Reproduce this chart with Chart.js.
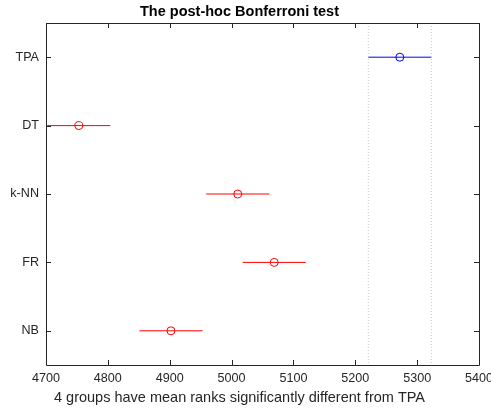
<!DOCTYPE html>
<html>
<head>
<meta charset="utf-8">
<script src="https://cdn.jsdelivr.net/npm/chart.js@4"></script>
<style>
  html, body { margin: 0; padding: 0; background: #fff; }
  #wrap { width: 491px; height: 410px; }
</style>
</head>
<body>
<div id="wrap"><canvas id="bonf"></canvas></div>
<script>
// groups, top to bottom
const groups = ['TPA', 'DT', 'k-NN', 'FR', 'NB'];
const meanRanks = [5272, 4753, 5010, 5069, 4902];
const halfWidth = [51, 51, 51, 51, 51];
const groupColours = ['#0000ff', '#ff0000', '#ff0000', '#ff0000', '#ff0000'];
const xTicks = [4700, 4800, 4900, 5000, 5100, 5200, 5300, 5400];

const axisColour = '#262626';
const ctx = document.getElementById('bonf').getContext('2d');

let datasets = [];

// dotted limits of the reference group (TPA)
const refLo = meanRanks[0] - halfWidth[0];
const refHi = meanRanks[0] + halfWidth[0];
[refLo, refHi].forEach((v) => {
	datasets.push({
		type: 'line',
		data: [{ x: v, y: 0.5 }, { x: v, y: groups.length + 0.5 }],
		borderColor: '#c8c8c8',
		borderWidth: 1,
		borderDash: [1, 2],
		pointRadius: 0
	});
});

// interval bars
groups.forEach((g, i) => {
	datasets.push({
		type: 'line',
		data: [
			{ x: meanRanks[i] - halfWidth[i], y: i + 1 },
			{ x: meanRanks[i] + halfWidth[i], y: i + 1 }
		],
		borderColor: groupColours[i],
		borderWidth: 1,
		pointRadius: 0
	});
});

// mean markers
datasets.push({
	type: 'scatter',
	data: groups.map((g, i) => ({ x: meanRanks[i], y: i + 1 })),
	pointStyle: 'circle',
	pointRadius: 4,
	pointBorderWidth: 1,
	borderColor: groupColours,
	pointBorderColor: groupColours,
	backgroundColor: 'rgba(0,0,0,0)',
	pointBackgroundColor: 'rgba(0,0,0,0)'
});

// box round the axes with inward ticks, like matlab
const boxPlugin = {
	id: 'boxPlugin',
	afterDraw(chart) {
		const c = chart.ctx;
		const a = chart.chartArea;
		const xs = chart.scales.x;
		const ys = chart.scales.y;
		const len = 5;
		c.save();
		c.strokeStyle = axisColour;
		c.lineWidth = 1;
		c.beginPath();
		c.rect(Math.round(a.left) + 0.5, Math.round(a.top) + 0.5,
			Math.round(a.right - a.left), Math.round(a.bottom - a.top));
		xs.ticks.forEach((t) => {
			const px = Math.round(xs.getPixelForValue(t.value)) + 0.5;
			c.moveTo(px, a.bottom);
			c.lineTo(px, a.bottom - len);
			c.moveTo(px, a.top);
			c.lineTo(px, a.top + len);
		});
		ys.ticks.forEach((t) => {
			const py = Math.round(ys.getPixelForValue(t.value)) + 0.5;
			c.moveTo(a.left, py);
			c.lineTo(a.left + len, py);
			c.moveTo(a.right, py);
			c.lineTo(a.right - len, py);
		});
		c.stroke();
		c.restore();
	}
};

const myChart = new Chart(ctx, {
	data: { datasets: datasets },
	plugins: [boxPlugin],
	options: {
		responsive: true,
		maintainAspectRatio: false,
		animation: false,
		layout: { padding: { left: 0, right: 12, top: 0, bottom: 0 } },
		plugins: {
			legend: { display: false },
			tooltip: { enabled: false },
			title: {
				display: true,
				text: 'The post-hoc Bonferroni test',
				color: '#000',
				font: { family: 'Liberation Sans', size: 14.5, weight: 'bold' },
				padding: { top: 3.6, bottom: 2 }
			},
			subtitle: {
				display: true,
				position: 'bottom',
				text: '4 groups have mean ranks significantly different from TPA',
				color: axisColour,
				font: { family: 'Liberation Sans', size: 14.5 },
				padding: { top: 0, bottom: 3.3 }
			}
		},
		scales: {
			x: {
				type: 'linear',
				min: 4700,
				max: 5400,
				afterBuildTicks: (scale) => {
					scale.ticks = xTicks.map((v) => ({ value: v }));
				},
				afterFit: (scale) => {
					scale.height = 24.3;
					scale.paddingLeft = 0;
					scale.paddingRight = 0;
				},
				grid: { display: false, drawTicks: false },
				border: { display: false },
				ticks: {
					color: axisColour,
					padding: 6.4,
					maxRotation: 0,
					font: { family: 'Liberation Sans', size: 12.6 },
					callback: (v) => String(v)
				}
			},
			y: {
				type: 'linear',
				reverse: true,
				min: 0.5,
				max: groups.length + 0.5,
				afterBuildTicks: (scale) => {
					scale.ticks = groups.map((g, i) => ({ value: i + 1 }));
				},
				afterFit: (scale) => {
					scale.width = 46;
					scale.paddingTop = 0;
					scale.paddingBottom = 0;
				},
				grid: { display: false, drawTicks: false },
				border: { display: false },
				ticks: {
					color: axisColour,
					padding: 7,
					font: { family: 'Liberation Sans', size: 12.6 },
					callback: (v) => groups[v - 1]
				}
			}
		}
	}
});
</script>
</body>
</html>
